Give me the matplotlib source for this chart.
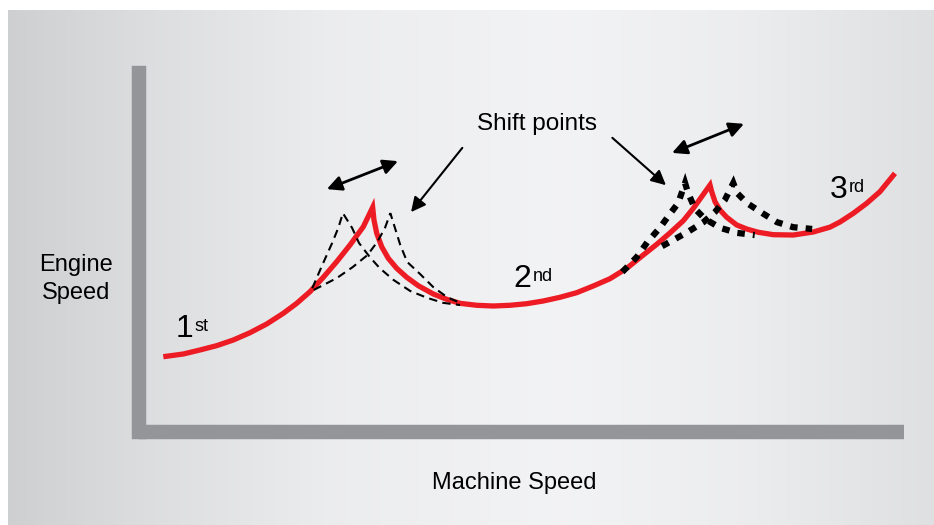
import matplotlib.pyplot as plt
import numpy as np

plt.rcParams['font.family'] = ['Liberation Sans', 'DejaVu Sans']

# engine speed vs machine speed (axis 0-100 both ways)
gear1_x = [3.24, 5.85, 8.03, 10.22, 12.38, 14.57, 16.75, 18.92, 20.67, 22.40,
           24.14, 25.89, 27.63, 29.37, 30.59]
gear1_y = [20.99, 21.74, 22.86, 24.07, 25.64, 27.68, 30.11, 33.09, 35.87, 39.11,
           43.12, 47.47, 52.13, 57.23, 62.63]
gear2_x = [30.59, 30.76, 31.12, 31.77, 32.63, 33.73, 35.04, 36.55, 38.51, 40.26,
           42.00, 44.18, 46.35, 48.53, 50.71, 52.88, 55.06, 57.24, 59.41, 61.59,
           63.78, 65.94, 67.69, 69.43, 71.17, 72.48, 73.57, 74.66]
gear2_y = [62.63, 59.09, 55.39, 51.65, 48.42, 45.63, 43.12, 40.78, 38.47, 36.99,
           35.87, 35.32, 35.12, 35.32, 35.76, 36.52, 37.55, 38.83, 40.70, 42.73,
           45.63, 49.34, 52.30, 55.50, 58.90, 62.36, 65.59, 68.85]
gear3_x = [74.66, 74.88, 75.31, 75.96, 76.84, 78.15, 79.45, 80.97, 82.93, 85.54,
           88.15, 90.33, 91.64, 93.38, 95.13, 96.86, 98.82]
gear3_y = [68.85, 66.99, 64.20, 61.88, 59.85, 57.70, 56.59, 55.67, 55.00, 54.91,
           55.75, 57.10, 58.54, 60.96, 63.75, 66.99, 72.11]

# alternative shift points 1st -> 2nd (thin dashed)
early1_x = [22.7, 24.0, 25.3, 26.1, 26.7, 27.9, 28.8, 30.2, 31.5, 33.3, 35.5, 37.7, 39.8, 42.0]
early1_y = [40.1, 46.5, 52.7, 56.9, 61.0, 56.9, 52.7, 48.8, 45.7, 42.4, 39.3, 37.4, 36.0, 35.4]
late1_x = [22.9, 25.9, 28.0, 29.9, 31.2, 32.2, 32.9, 33.5, 34.2, 35.1, 36.8, 38.5, 40.3, 42.0]
late1_y = [39.6, 42.9, 46.0, 49.3, 53.0, 56.9, 61.0, 56.9, 52.1, 47.4, 44.0, 40.4, 37.6, 36.0]

# alternative shift points 2nd -> 3rd (heavy dotted)
early2_x = [63.2, 65.1, 66.5, 68.1, 69.5, 70.5, 71.4, 71.8, 72.7, 74.0, 76.0, 78.2, 80.5]
early2_y = [44.6, 48.8, 53.0, 56.9, 61.0, 63.8, 69.4, 66.6, 62.2, 59.4, 56.9, 55.5, 54.9]
late2_x = [68.4, 71.7, 73.8, 75.3, 76.6, 77.7, 78.2, 79.5, 81.5, 83.4, 85.5, 88.0]
late2_y = [51.8, 55.7, 58.5, 61.3, 64.7, 69.4, 66.6, 63.8, 61.0, 58.5, 57.1, 56.6]

# arrows: (start, end)
double_arrows = [((24.6, 67.7), (33.9, 75.5)), ((69.7, 77.8), (79.1, 85.9))]
pointer_arrows = [((42.3, 79.2), (35.6, 61.3)), ((61.9, 82.0), (68.9, 68.8))]

gear_labels = ['1', '2', '3']
gear_suffix = ['st', 'nd', 'rd']
gear_label_pos = [(4.8, 26.5), (49.0, 40.4), (90.3, 65.2)]

fig = plt.figure(figsize=(9.34, 5.25), dpi=100, facecolor='white')

# grey gradient backdrop
bg = fig.add_axes([8 / 934, 0, 926 / 934, 515 / 525])
stops = [0.0, 0.15, 0.35, 0.6, 0.8, 1.0]
levels = [0.81, 0.865, 0.925, 0.95, 0.925, 0.875]
u = np.linspace(0, 1, 400)
g = np.interp(u, stops, levels)
img = np.stack([g, g + 0.003, g + 0.01], axis=-1)[None, :, :]
bg.imshow(np.clip(img, 0, 1), aspect='auto', extent=[0, 1, 0, 1])
bg.axis('off')

ax = fig.add_axes([0.14829, 0.17714, 0.81959, 0.68333])
ax.set_facecolor('none')
ax.set_xlim(0, 100)
ax.set_ylim(0, 100)
ax.set_xticks([])
ax.set_yticks([])
for s in ['top', 'right']:
    ax.spines[s].set_visible(False)
for s in ['left', 'bottom']:
    ax.spines[s].set_color('#939598')
    ax.spines[s].set_linewidth(10.4)
ax.spines['left'].set_capstyle('projecting')
ax.spines['bottom'].set_capstyle('butt')

red_x = gear1_x + gear2_x[1:] + gear3_x[1:]
red_y = gear1_y + gear2_y[1:] + gear3_y[1:]
ax.plot(red_x, red_y, color='#ed1c24', lw=3.8, solid_joinstyle='miter',
        solid_capstyle='butt', zorder=3)

for gx, gy in [(early1_x, early1_y), (late1_x, late1_y)]:
    ax.plot(gx, gy, color='black', lw=1.5, dashes=(4, 2.6),
            dash_joinstyle='miter', zorder=4)
for gx, gy in [(early2_x, early2_y), (late2_x, late2_y)]:
    ax.plot(gx, gy, color='black', lw=4.5, dashes=(1.2, 1.3),
            dash_capstyle='butt', dash_joinstyle='miter', zorder=4)

for a, b in double_arrows:
    ax.annotate('', xy=b, xytext=a,
                arrowprops=dict(arrowstyle='<|-|>', color='black', lw=2,
                                mutation_scale=22, shrinkA=0, shrinkB=0))
for a, b in pointer_arrows:
    ax.annotate('', xy=b, xytext=a,
                arrowprops=dict(arrowstyle='-|>', color='black', lw=1.5,
                                mutation_scale=22, shrinkA=0, shrinkB=0))

for lab, suf, (x, y) in zip(gear_labels, gear_suffix, gear_label_pos):
    t = ax.text(x, y, lab, fontsize=23, ha='left', va='baseline', color='black')
    ax.annotate(suf, xy=(1, 1), xycoords=t, xytext=(1, -3),
                textcoords='offset points', fontsize=13, ha='left', va='top')

ax.text(52.0, 84.2, 'Shift points', fontsize=17.5, ha='center', va='baseline')
ax.text(-8.2, 42.6, 'Engine\nSpeed', fontsize=17, ha='center', va='center',
        linespacing=1.35)
ax.text(49.05, -15.9, 'Machine Speed', fontsize=17, ha='center', va='baseline')

fig.savefig('out.png', dpi=100, facecolor='white')
